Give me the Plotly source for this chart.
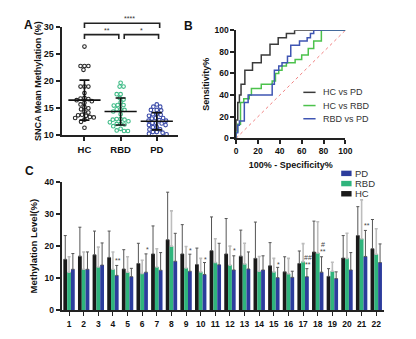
import numpy as np
import plotly.graph_objects as go

W, H = 416, 339
FONT = "Liberation Sans, Arial, sans-serif"

# ---------------- Panel A data ----------------
groups_a = ["HC", "RBD", "PD"]
hc_points = [26.4, 22.8, 22.8, 22.8, 22.1, 19.0, 19.0, 19.0, 17.8, 16.9, 16.8, 16.7, 16.5, 16.3,
             16.0, 15.7, 15.2, 15.0, 14.8, 14.4, 14.2, 13.8, 13.7, 13.6, 13.4, 13.3, 13.2, 12.9,
             12.5, 11.4]
rbd_points = [19.7, 19.0, 19.0, 17.6, 17.6, 16.9, 16.6, 16.1, 15.6, 15.6, 15.5, 14.8, 14.8, 14.7,
              14.4, 13.9, 13.0, 13.0, 12.9, 12.9, 12.6, 12.4, 12.1, 12.1, 12.0, 11.7, 11.2, 10.9,
              10.8, 10.8]
pd_points = [15.7, 15.3, 15.3, 14.7, 14.7, 14.6, 13.9, 13.9, 13.8, 13.6, 13.2, 13.2, 13.1, 12.8,
             12.7, 12.7, 12.3, 12.3, 12.2, 11.9, 11.9, 11.5, 11.5, 11.1, 11.1, 10.6, 10.6, 10.5,
             10.3, 10.2, 9.9]
mean_a = [16.5, 14.4, 12.6]
sd_a = [3.7, 2.5, 1.6]
sig_a = [(0, 2.08, 30.7, 29.8, "****"), (0, 0.95, 28.6, 27.8, "**"), (1.1, 2.05, 28.6, 27.8, "*")]

# ---------------- Panel B data (ROC steps) ----------------
roc_names = ["HC vs PD", "HC vs RBD", "RBD vs PD"]
roc_hc_pd_x = [0, 0, 1.5, 3, 4.5, 8, 15, 23, 31, 38.5, 46, 53.5, 100]
roc_hc_pd_y = [0, 17, 33, 40, 50, 63, 70, 77, 87, 93, 97, 100, 100]
roc_hc_rbd_x = [0, 0, 1.5, 4, 7, 12, 14, 23, 33, 36, 39, 42, 46, 54, 60, 66, 71, 78, 100]
roc_hc_rbd_y = [0, 6, 13, 33, 36.5, 40, 46, 50, 53, 60, 63, 67, 70, 73, 77, 83, 90, 100, 100]
roc_rbd_pd_x = [0, 0, 1.5, 3, 7.5, 11, 33, 35, 39, 42, 47, 50, 58, 65, 68, 71, 100]
roc_rbd_pd_y = [0, 5, 12, 16, 33, 40, 50, 63, 67, 70, 76, 86, 90, 93, 97, 100, 100]

# ---------------- Panel C data ----------------
sites = [str(i) for i in range(1, 23)]
hc_mean = [15.9, 16.9, 17.3, 16.5, 12.9, 14.6, 17.6, 22.0, 17.6, 14.3, 18.6, 17.6, 16.9, 16.2,
           13.9, 12.0, 14.6, 18.2, 10.6, 16.3, 23.3, 19.2]
hc_sd = [7.4, 9.0, 7.4, 8.2, 6.0, 6.3, 8.7, 14.8, 9.1, 5.1, 10.5, 11.0, 8.1, 11.3, 7.2, 4.7,
         3.9, 9.6, 2.4, 7.0, 9.0, 9.1]
rbd_mean = [11.9, 12.8, 13.5, 12.8, 11.9, 11.5, 13.5, 20.0, 13.2, 12.0, 14.9, 14.1, 14.5, 12.2,
            12.0, 11.4, 15.2, 17.9, 12.2, 16.2, 22.3, 17.5]
rbd_sd = [4.8, 5.4, 6.2, 5.4, 4.8, 4.1, 5.7, 11.0, 6.7, 4.2, 7.4, 5.9, 6.4, 4.6, 4.2, 4.8, 5.6,
          9.7, 2.8, 7.8, 12.1, 7.9]
pd_mean = [12.8, 12.8, 14.1, 10.9, 10.5, 11.9, 12.5, 15.3, 12.2, 11.2, 14.2, 12.6, 12.9, 12.6,
           10.2, 10.3, 10.5, 11.9, 9.9, 12.6, 16.8, 14.9]
pd_sd = [4.9, 5.4, 6.9, 3.1, 2.6, 5.7, 5.5, 8.7, 5.3, 3.7, 6.7, 4.4, 5.3, 4.4, 3.2, 1.9, 2.5,
         4.8, 2.1, 5.4, 8.1, 5.8]
sig_c = [("4", 15.4, "**"), ("6", 18.9, "*"), ("9", 18.6, "*"), ("10", 15.9, "*"),
         ("12", 18.6, "*"), ("15", 14.3, "*"), ("17", 14.4, "**"), ("17", 16.4, "##"),
         ("18", 18.3, "**"), ("18", 20.6, "#"), ("21", 26.5, "**")]

# ---------------- colours ----------------
C_HC, C_RBD, C_PD = "#1a1a1a", "#2fb47c", "#2c3c9c"
C_A = ["#262626", "#3dbb86", "#3a4aa8"]
C_ROC = ["#3a3a3a", "#4cc24c", "#3f55b3"]


def px(x):
    return x / W


def py(y):
    return 1 - y / H


# layout geometry (pixels)
A_X0, A_X1, A_Y0, A_Y1 = 61, 180, 134.3, 22.7
A_RANGE_X = [-0.63, 2.59]
A_RANGE_Y = [10, 30]
B_X0, B_X1, B_Y0, B_Y1 = 239.3, 351, 137.3, 26
C_X0, C_X1, C_Y0, C_Y1 = 61, 390, 314.7, 182.3


def a_paper_x(v):
    return px(A_X0 + (v - A_RANGE_X[0]) / (A_RANGE_X[1] - A_RANGE_X[0]) * (A_X1 - A_X0))


def a_paper_y(v):
    return py(A_Y0 + (v - A_RANGE_Y[0]) / (A_RANGE_Y[1] - A_RANGE_Y[0]) * (A_Y1 - A_Y0))


def swarm(vals, ppu_y, ppu_x, diam):
    vals = np.asarray(vals, float)
    order = np.argsort(-vals, kind="stable")
    placed = []
    offs = np.zeros(len(vals))
    cands = sorted(np.arange(-40, 40.01, 0.5), key=lambda c: (abs(c), c))
    for i in order:
        yy = vals[i] * ppu_y
        for c in cands:
            if all((c - qx) ** 2 + (yy - qy) ** 2 >= diam ** 2 for qx, qy in placed):
                break
        placed.append((c, yy))
        offs[i] = c / ppu_x
    return offs


fig = go.Figure()

ppu_y = (A_Y0 - A_Y1) / (A_RANGE_Y[1] - A_RANGE_Y[0])
ppu_x = (A_X1 - A_X0) / (A_RANGE_X[1] - A_RANGE_X[0])
for gi, (name, pts) in enumerate(zip(groups_a, [hc_points, rbd_points, pd_points])):
    offs = swarm(pts, ppu_y, ppu_x, 4.0)
    fig.add_trace(go.Scatter(
        x=gi + offs, y=pts, mode="markers", xaxis="x", yaxis="y", showlegend=False,
        marker=dict(symbol="circle-open", size=3.6, color=C_A[gi],
                    line=dict(width=1.1, color=C_A[gi])),
        cliponaxis=False, name=name))
fig.add_trace(go.Scatter(
    x=[0, 1, 2], y=mean_a, mode="markers", xaxis="x", yaxis="y", showlegend=False,
    marker=dict(symbol="line-ew", size=23, color="#111", line=dict(width=1.6, color="#111")),
    error_y=dict(type="data", array=sd_a, width=5, thickness=1.6, color="#111"),
    cliponaxis=False))

# ---------------- Panel B ----------------
fig.add_trace(go.Scatter(x=[0, 100], y=[0, 100], mode="lines", xaxis="x2", yaxis="y2",
                         line=dict(color="#f08080", width=1, dash="dot"), showlegend=False))
for (xs, ys), name, col in zip([(roc_hc_pd_x, roc_hc_pd_y), (roc_hc_rbd_x, roc_hc_rbd_y),
                                (roc_rbd_pd_x, roc_rbd_pd_y)], roc_names, C_ROC):
    fig.add_trace(go.Scatter(x=xs, y=ys, mode="lines", line_shape="hv", xaxis="x2", yaxis="y2",
                             line=dict(color=col, width=1.5), name=name, showlegend=False))

# ---------------- Panel C ----------------
for name, m, s, col, ecol, eth in [("HC", hc_mean, hc_sd, C_HC, "#555", 1),
                                   ("RBD", rbd_mean, rbd_sd, C_RBD, "#bdbdbd", 1.6),
                                   ("PD", pd_mean, pd_sd, C_PD, "#555", 1)]:
    fig.add_trace(go.Bar(
        x=sites, y=m, name=name, xaxis="x3", yaxis="y3", marker=dict(color=col, line_width=0),
        error_y=dict(type="data", symmetric=False, array=s, arrayminus=[0] * len(s),
                     width=1.5, thickness=eth, color=ecol),
        showlegend=False))

shapes = []
annotations = []

# significance brackets panel A
for x0, x1, yb, yt, lab in sig_a:
    X0, X1, Yb, Yt = a_paper_x(x0), a_paper_x(x1), a_paper_y(yb), a_paper_y(yt)
    shapes.append(dict(type="path", xref="paper", yref="paper",
                       path=f"M{X0},{Yt} L{X0},{Yb} L{X1},{Yb} L{X1},{Yt}",
                       line=dict(color="#222", width=1.6)))
    annotations.append(dict(x=(X0 + X1) / 2, y=Yb, xref="paper", yref="paper", text=lab,
                            showarrow=False, yanchor="bottom", yshift=-1,
                            font=dict(size=7, color="#333", family=FONT)))

# significance labels panel C
bar_w = (C_X1 - C_X0) / 22.0 * 0.78 / 3
for cat, yv, lab in sig_c:
    annotations.append(dict(x=sites.index(cat), y=yv, xref="x3", yref="y3", text=lab,
                            showarrow=False, xshift=bar_w + 1, yanchor="middle",
                            font=dict(size=7, color="#444", family=FONT)))

# Legend panel B (manual)
for i, (name, col) in enumerate(zip(roc_names, C_ROC)):
    yy = 90 + i * 13.6
    shapes.append(dict(type="line", xref="paper", yref="paper", x0=px(308), x1=px(320.5),
                       y0=py(yy), y1=py(yy), line=dict(color=col, width=1.5)))
    annotations.append(dict(x=px(326.5), y=py(yy), xref="paper", yref="paper", text=name,
                            showarrow=False, xanchor="left", yanchor="middle",
                            font=dict(size=9, color="#333", family=FONT)))

# Legend panel C (manual)
for i, (name, col) in enumerate([("PD", C_PD), ("RBD", C_RBD), ("HC", C_HC)]):
    yy = 173.5 + i * 10.5
    shapes.append(dict(type="rect", xref="paper", yref="paper", x0=px(346.7), x1=px(357.3),
                       y0=py(yy - 2.8), y1=py(yy + 2.8), fillcolor=col, line_width=0))
    annotations.append(dict(x=px(359), y=py(yy), xref="paper", yref="paper", text=name,
                            showarrow=False, xanchor="left", yanchor="middle",
                            font=dict(size=9.5, color="#333", family=FONT)))

# panel letters
for lab, xx, yy in [("A", 20, 11), ("B", 191, 12), ("C", 21, 171)]:
    annotations.append(dict(x=px(xx), y=py(yy), xref="paper", yref="paper", text=f"<b>{lab}</b>",
                            showarrow=False, font=dict(size=12, color="#111", family=FONT)))

tickf = dict(family=FONT, size=8.5, color="#111", weight="bold")
titlef = dict(family=FONT, size=9, color="#111", weight="bold")

fig.update_layout(
    width=W, height=H, margin=dict(l=0, r=0, t=0, b=0),
    paper_bgcolor="white", plot_bgcolor="white", font=dict(family=FONT),
    bargap=0.22, bargroupgap=0, barmode="group", showlegend=False,
    shapes=shapes, annotations=annotations,
    xaxis=dict(domain=[px(A_X0), px(A_X1)], range=A_RANGE_X, tickvals=[0, 1, 2],
               ticktext=groups_a, showline=True, linecolor="#222", linewidth=2, ticks="outside",
               ticklen=4, tickwidth=1.6, tickcolor="#222", showgrid=False, zeroline=False,
               tickfont=dict(family=FONT, size=9.5, color="#111", weight="bold"), anchor="y"),
    yaxis=dict(domain=[py(A_Y0), py(A_Y1)], range=A_RANGE_Y, tickvals=[10, 15, 20, 25, 30],
               showline=True, linecolor="#222", linewidth=2, ticks="outside", ticklen=4,
               tickwidth=1.6, tickcolor="#222", showgrid=False, zeroline=False,
               tickfont=dict(family=FONT, size=9, color="#111", weight="bold"), anchor="x",
               title=dict(text="SNCA Mean Methylation (%)",
                          font=dict(family=FONT, size=9, color="#111", weight="bold"),
                          standoff=1)),
    xaxis2=dict(domain=[px(B_X0), px(B_X1)], range=[0, 100], dtick=20, showline=True,
                linecolor="#222", linewidth=1.5, ticks="outside", ticklen=4, tickwidth=1.5,
                tickcolor="#222", showgrid=False, zeroline=False, tickfont=tickf, anchor="y2",
                title=dict(text="100% - Specificity%", font=titlef, standoff=6)),
    yaxis2=dict(domain=[py(B_Y0), py(B_Y1)], range=[0, 100], dtick=20, showline=True,
                linecolor="#222", linewidth=1.5, ticks="outside", ticklen=4, tickwidth=1.5,
                tickcolor="#222", showgrid=False, zeroline=False, tickfont=tickf, anchor="x2",
                title=dict(text="Sensitivity%", font=titlef, standoff=3)),
    xaxis3=dict(domain=[px(C_X0), px(C_X1)], range=[-0.504, 21.5], type="category",
                showline=True, linecolor="#222", linewidth=2, ticks="outside", ticklen=4,
                tickwidth=1.4, tickcolor="#222", showgrid=False, zeroline=False,
                tickfont=dict(family=FONT, size=8.5, color="#111", weight="bold"), anchor="y3"),
    yaxis3=dict(domain=[py(C_Y0), py(C_Y1)], range=[0, 40], tickvals=[0, 10, 20, 30, 40],
                showline=True, linecolor="#222", linewidth=2, ticks="outside", ticklen=4,
                tickwidth=1.6, tickcolor="#222", showgrid=False, zeroline=False,
                tickfont=dict(family=FONT, size=8.5, color="#111", weight="bold"), anchor="x3",
                title=dict(text="Methylation Level(%)",
                           font=dict(family=FONT, size=9.5, color="#111", weight="bold"),
                           standoff=5)),
)

fig.write_html("out.html")
